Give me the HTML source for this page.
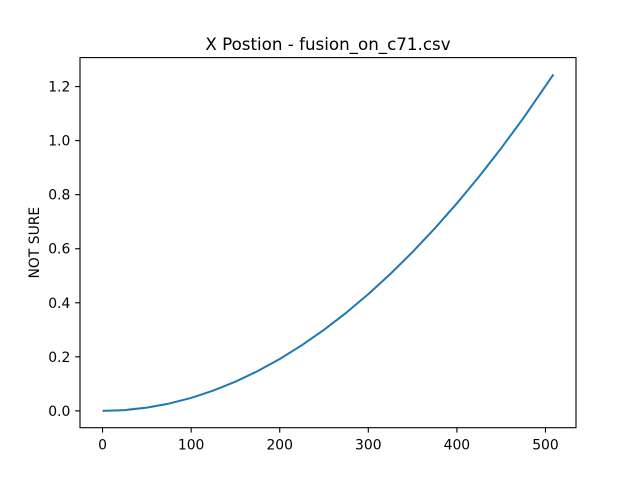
<!DOCTYPE html>
<html><head><meta charset="utf-8"><style>
body{margin:0;background:#fff;}
svg text{font-family:"DejaVu Sans","Liberation Sans",sans-serif;}
</style></head><body>
<svg id="chart" width="640" height="480" xmlns="http://www.w3.org/2000/svg">
<rect width="640" height="480" fill="#fff"/>
<g id="g"></g>
</svg>
<script>
const xValues=[0,25,50,75,100,125,150,175,200,225,250,275,300,325,350,375,400,425,450,475,509];
const yValues=[0,0.003,0.012,0.027,0.048,0.075,0.108,0.147,0.192,0.243,0.300,0.363,0.432,0.507,0.588,0.675,0.768,0.867,0.972,1.083,1.245];
const xTicks=[0,100,200,300,400,500];
const yTicks=[0.0,0.2,0.4,0.6,0.8,1.0,1.2];
const L=80,R=576,T=57.6,B=427.7;
const xmin=-25.45,xmax=534.45,ymin=-0.06225,ymax=1.30725;
const sx=v=>L+(v-xmin)/(xmax-xmin)*(R-L);
const sy=v=>B-(v-ymin)/(ymax-ymin)*(B-T);
const g=document.getElementById('g');
const NS='http://www.w3.org/2000/svg';
function mk(t,a){const e=document.createElementNS(NS,t);for(const k in a)e.setAttribute(k,a[k]);g.appendChild(e);return e;}
let d=xValues.map((x,i)=>(i?'L':'M')+sx(x).toFixed(2)+','+sy(yValues[i]).toFixed(2)).join(' ');
const line=mk('path',{d:d,fill:'none',stroke:'#1f77b4','stroke-width':2,'stroke-linejoin':'round'});


const frame=mk('rect',{x:L,y:T,width:R-L,height:B-T,fill:'none',stroke:'#000','stroke-width':1.1});


xTicks.forEach(v=>{const x=sx(v);
 mk('line',{x1:x,x2:x,y1:B,y2:B+4.9,stroke:'#000','stroke-width':1.1});
 const t=mk('text',{x:x,y:B+22,'font-size':13.9,'text-anchor':'middle',fill:'#000'});t.textContent=v;
 
 });
yTicks.forEach(v=>{const y=sy(v);
 mk('line',{x1:L,x2:L-4.9,y1:y,y2:y,stroke:'#000','stroke-width':1.1});
 const t=mk('text',{x:L-9.7,y:y+5,'font-size':13.9,'text-anchor':'end',fill:'#000'});t.textContent=v.toFixed(1);
 
 });
const title=mk('text',{x:(L+R)/2,y:50,'font-size':16.7,'text-anchor':'middle',fill:'#000'});title.textContent='X Postion - fusion_on_c71.csv';


const yl=mk('text',{x:0,y:0,'font-size':13.9,'text-anchor':'middle',fill:'#000',transform:'translate(39,'+((T+B)/2)+') rotate(-90)'});yl.textContent='NOT SURE';


</script>
</body></html>
